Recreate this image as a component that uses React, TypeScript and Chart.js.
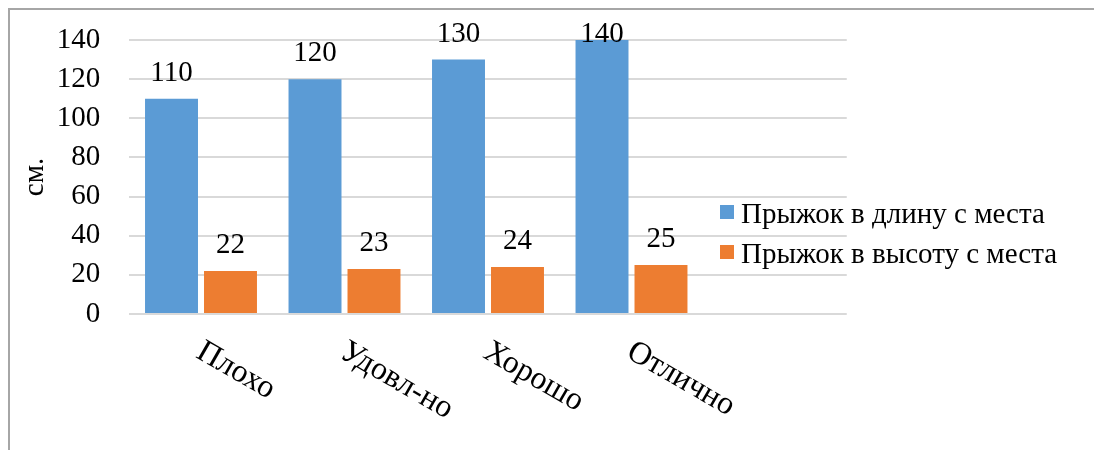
import { useEffect, useRef } from "react";
import { Chart, registerables } from "chart.js";

Chart.register(...registerables);

const categories = ["Плохо", "Удовл-но", "Хорошо", "Отлично", ""];
const longJump = [110, 120, 130, 140, null];
const highJump = [22, 23, 24, 25, null];
const seriesNames = ["Прыжок в длину с места", "Прыжок в высоту с места"];
const seriesColors = ["#5B9BD5", "#ED7D31"];
const yMin = 0;
const yMax = 140;
const yStep = 20;
const yTitle = "см.";

const FONT = '"Liberation Serif", "Times New Roman", serif';
const FS = 29;
const XFS = 32;

const customDraw = {
  id: "customDraw",
  afterDatasetsDraw(chart: any) {
    const ctx = chart.ctx;
    ctx.save();
    ctx.fillStyle = "#000";
    ctx.font = `${FS}px ${FONT}`;
    // data labels (kept inside the chart's top edge)
    ctx.textAlign = "center";
    ctx.textBaseline = "alphabetic";
    chart.data.datasets.forEach((ds: any, di: number) => {
      const meta = chart.getDatasetMeta(di);
      meta.data.forEach((el: any, i: number) => {
        const v = ds.data[i];
        if (v == null) return;
        ctx.fillText(String(v), el.x, Math.max(el.y - 18, 32));
      });
    });
    // rotated category labels
    const xs = chart.scales.x;
    ctx.font = `${XFS}px ${FONT}`;
    ctx.textAlign = "left";
    ctx.textBaseline = "top";
    (chart.data.labels as string[]).forEach((lab, i) => {
      if (!lab) return;
      const x = xs.getPixelForTick(i);
      ctx.save();
      ctx.translate(x + 6, chart.chartArea.bottom + 21.5);
      ctx.rotate((30 * Math.PI) / 180);
      ctx.fillText(lab, 0, 0);
      ctx.restore();
    });
    // legend
    ctx.font = `${FS}px ${FONT}`;
    ctx.textBaseline = "alphabetic";
    chart.data.datasets.forEach((ds: any, di: number) => {
      const y0 = 195 + di * 40;
      ctx.fillStyle = ds.backgroundColor;
      ctx.fillRect(710, y0, 14, 14);
      ctx.fillStyle = "#000";
      ctx.fillText(ds.label, 731, y0 + 18);
    });
    ctx.restore();
  },
};

export default function App() {
  const ref = useRef<HTMLCanvasElement | null>(null);
  useEffect(() => {
    document.documentElement.style.overflow = "hidden";
    document.body.style.overflow = "hidden";
    if (!ref.current) return;
    const chart = new Chart(ref.current, {
      type: "bar",
      data: {
        labels: categories,
        datasets: [
          {
            label: seriesNames[0],
            data: longJump,
            backgroundColor: seriesColors[0],
            categoryPercentage: 0.822,
            barPercentage: 0.898,
          },
          {
            label: seriesNames[1],
            data: highJump,
            backgroundColor: seriesColors[1],
            categoryPercentage: 0.822,
            barPercentage: 0.898,
          },
        ],
      },
      options: {
        animation: false,
        responsive: false,
        layout: { padding: { top: 30, right: 247.25, left: 0, bottom: 0 } },
        plugins: { legend: { display: false }, tooltip: { enabled: false } },
        scales: {
          x: {
            grid: { display: false },
            border: { display: false },
            ticks: { display: false },
            afterFit: (s: any) => {
              s.height = 136;
            },
          },
          y: {
            min: yMin,
            max: yMax,
            ticks: {
              stepSize: yStep,
              padding: 0,
              color: "#000",
              font: { family: FONT, size: FS },
            },
            grid: {
              color: "#d9d9d9",
              lineWidth: 2,
              drawTicks: true,
              tickLength: 29,
              tickColor: "rgba(0,0,0,0)",
            },
            border: { display: false },
            title: {
              display: true,
              text: yTitle,
              color: "#000",
              font: { family: FONT, size: FS },
              padding: { top: 8, bottom: 0 },
            },
            afterFit: (s: any) => {
              s.width = 119.25;
            },
          },
        },
      },
      plugins: [customDraw],
    });
    return () => chart.destroy();
  }, []);
  return (
    <div
      style={{
        width: 1084,
        height: 440,
        borderLeft: "2px solid #a6a6a6",
        borderTop: "2px solid #a6a6a6",
        overflow: "hidden",
      }}
    >
      <canvas ref={ref} width={1084} height={440} style={{ display: "block" }} />
    </div>
  );
}
